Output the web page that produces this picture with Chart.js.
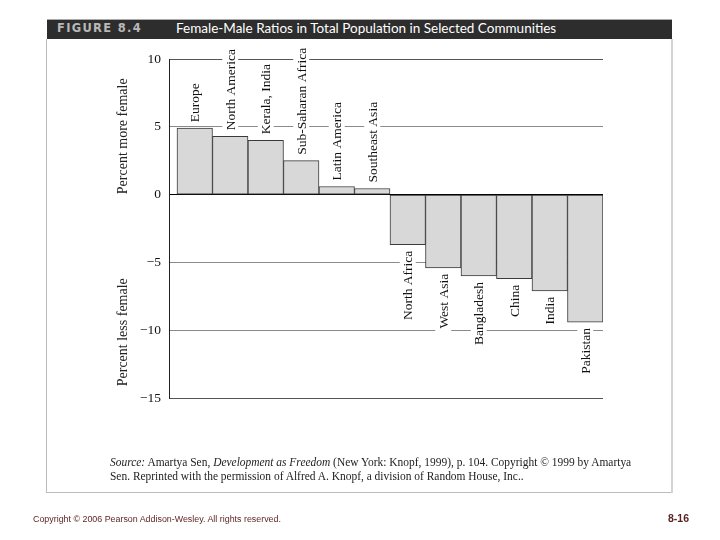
<!DOCTYPE html>
<html>
<head>
<meta charset="utf-8">
<script src="https://cdn.jsdelivr.net/npm/chart.js@4"></script>
<style>
  html, body { margin:0; padding:0; background:#fff; width:720px; height:540px; overflow:hidden; }
  #wrap { position:relative; width:720px; height:540px; }
  canvas { position:absolute; left:0; top:0; z-index:1; }
  .abs { position:absolute; z-index:2; }
  #header { left:47px; top:19px; width:625px; height:19px; background:#2d2d2d; border-top:1px solid #aaa; }
  #fig { left:10px; top:1px; font-family:"DejaVu Sans", sans-serif; font-weight:bold; font-size:11.5px; letter-spacing:1.3px; color:#b8b8b8; position:absolute; }
  #title { left:129px; top:0px; font-family:Lato, sans-serif; font-size:13.5px; color:#fff; position:absolute; white-space:nowrap; }
  #lb { left:46px; top:39px; width:1px; height:454px; background:#bbb; }
  #bb { left:46px; top:492px; width:627px; height:1px; background:#bbb; }
  #rb { left:671px; top:39px; width:2px; height:454px; background:#d4d4d4; }
  #src { left:110px; top:455px; width:540px; font-family:"Liberation Serif", serif; font-size:11.45px; line-height:14px; color:#222; }
  #copy { left:33px; top:514px; font-family:"Liberation Sans", sans-serif; font-size:8.9px; color:#5b1f1f; white-space:nowrap; }
  #page { left:668px; top:512px; font-family:"Liberation Sans", sans-serif; font-weight:bold; font-size:10.5px; color:#5b1f1f; }
</style>
</head>
<body>
<div id="wrap">
  <canvas id="c" width="720" height="540"></canvas>
  <div class="abs" id="header"><span id="fig">FIGURE 8.4</span><span id="title">Female-Male Ratios in Total Population in Selected Communities</span></div>
  <div class="abs" id="lb"></div>
  <div class="abs" id="bb"></div>
  <div class="abs" id="rb"></div>
  <div class="abs" id="src"><i>Source:</i> Amartya Sen, <i>Development as Freedom</i> (New York: Knopf, 1999), p. 104. Copyright © 1999 by Amartya Sen. Reprinted with the permission of Alfred A. Knopf, a division of Random House, Inc..</div>
  <div class="abs" id="copy">Copyright © 2006 Pearson Addison-Wesley. All rights reserved.</div>
  <div class="abs" id="page">8-16</div>
</div>
<script>
const categories = ["Europe", "North America", "Kerala, India", "Sub-Saharan Africa", "Latin America", "Southeast Asia",
                    "North Africa", "West Asia", "Bangladesh", "China", "India", "Pakistan"];
const values = [4.9, 4.3, 4.0, 2.5, 0.6, 0.45, -3.7, -5.4, -6.0, -6.2, -7.1, -9.4];
const yTicks = [-15, -10, -5, 0, 5, 10];
const axisTitles = ["Percent more female", "Percent less female"];

const SERIF = '"Liberation Serif", "DejaVu Serif", serif';

const labelPlugin = {
  id: 'barLabels',
  afterDatasetsDraw(chart) {
    const ctx = chart.ctx;
    const meta = chart.getDatasetMeta(0);
    ctx.save();
    ctx.font = '13.5px ' + SERIF;
    ctx.fillStyle = '#111';
    ctx.textBaseline = 'middle';
    meta.data.forEach((el, i) => {
      const txt = categories[i];
      const w = ctx.measureText(txt).width;
      const pos = values[i] >= 0;
      ctx.save();
      ctx.translate(el.x, el.y);
      ctx.rotate(-Math.PI / 2);
      ctx.fillStyle = '#fff';
      if (pos) {
        ctx.fillRect(4, -8, w + 5, 16);
        ctx.fillStyle = '#111';
        ctx.textAlign = 'left';
        ctx.fillText(txt, 6, 1);
      } else {
        ctx.fillRect(-w - 9, -8, w + 5, 16);
        ctx.fillStyle = '#111';
        ctx.textAlign = 'right';
        ctx.fillText(txt, -6, 1);
      }
      ctx.restore();
    });
    const ys = chart.scales.y;
    ctx.font = '14px ' + SERIF;
    ctx.fillStyle = '#222';
    ctx.textAlign = 'center';
    const centers = [ys.getPixelForValue(4.3), ys.getPixelForValue(-10.15)];
    axisTitles.forEach((t, k) => {
      ctx.save();
      ctx.translate(123, centers[k]);
      ctx.rotate(-Math.PI / 2);
      ctx.fillText(t, 0, 0);
      ctx.restore();
    });
    ctx.restore();
  }
};

const gridColor = (v) => {
  if (v === 0) return '#000';
  if (v === 10 || v === -15) return '#555';
  return '#8a8a8a';
};

new Chart(document.getElementById('c'), {
  type: 'bar',
  data: {
    datasets: [{
      data: categories.map((c, i) => ({ x: i + 0.5, y: values[i] })),
      backgroundColor: '#d8d8d8',
      borderColor: '#3a3a3a',
      borderWidth: 1,
      borderSkipped: false,
      categoryPercentage: 1.0,
      barPercentage: 1.0
    }]
  },
  options: {
    responsive: false,
    animation: false,
    devicePixelRatio: 1,
    layout: { padding: { left: 100, top: 59, right: 117, bottom: 142 } },
    plugins: { legend: { display: false }, tooltip: { enabled: false }, title: { display: false } },
    scales: {
      x: {
        type: 'linear',
        display: false,
        offset: false,
        grid: { offset: false },
        min: -0.225,
        max: 12
      },
      y: {
        min: -15,
        max: 10,
        afterFit: (s) => { s.width = 69; },
        afterBuildTicks: (s) => { s.ticks = yTicks.map(v => ({ value: v })); },
        ticks: {
          padding: 8,
          color: '#111',
          font: { family: SERIF, size: 13.5 },
          callback: (v) => (v < 0 ? '\u2212' + Math.abs(v) : String(v))
        },
        grid: {
          drawTicks: false,
          color: (c) => gridColor(c.tick ? c.tick.value : null),
          lineWidth: 1
        },
        border: { display: true, color: '#222', width: 1 }
      }
    }
  },
  plugins: [labelPlugin]
});
</script>
</body>
</html>
